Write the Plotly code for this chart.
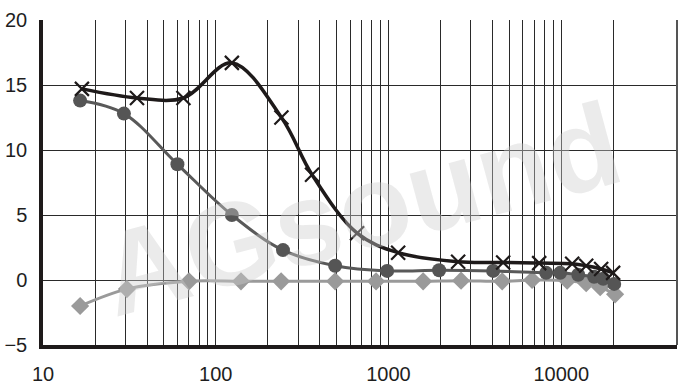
import plotly.graph_objects as go

# Series data
freq_cross = [16.8, 35, 65, 124, 240, 361, 658, 1137, 2530, 4610, 7450, 11570, 13940, 17020, 19960]
val_cross = [14.7, 14.0, 14.0, 16.7, 12.5, 8.1, 3.6, 2.1, 1.4, 1.35, 1.3, 1.25, 1.1, 0.85, 0.55]

freq_circle = [16.4, 29.4, 60, 124, 245, 491, 982, 1963, 4035, 8180, 9860, 12530, 15500, 17500, 20250]
val_circle = [13.8, 12.8, 8.9, 5.0, 2.3, 1.1, 0.7, 0.75, 0.7, 0.55, 0.55, 0.4, 0.25, 0.1, -0.3]

freq_diamond = [16.4, 30.6, 70, 140, 239, 491, 847, 1587, 2630, 4550, 6780, 10820, 13940, 16800, 20500]
val_diamond = [-2.0, -0.7, -0.1, -0.1, -0.1, -0.1, -0.1, -0.1, -0.05, -0.1, 0.0, -0.05, -0.25, -0.55, -1.1]

x_major = [10, 100, 1000, 10000]
x_minor = [20, 30, 40, 50, 60, 70, 80, 90,
           200, 300, 400, 500, 600, 700, 800, 900,
           2000, 3000, 4000, 5000, 6000, 7000, 8000, 9000,
           20000]
y_ticks = [-5, 0, 5, 10, 15, 20]

tickvals = x_major + x_minor
ticktext = [str(v) for v in x_major] + [""] * len(x_minor)

fig = go.Figure()

fig.add_trace(go.Scatter(
    x=freq_diamond, y=val_diamond, mode="lines+markers",
    line=dict(color="#9a9a9a", width=3, shape="spline", smoothing=1),
    marker=dict(symbol="diamond", size=14, color="#9a9a9a"),
    showlegend=False))
fig.add_trace(go.Scatter(
    x=freq_circle, y=val_circle, mode="lines+markers",
    line=dict(color="#595959", width=3, shape="spline", smoothing=1),
    marker=dict(symbol="circle", size=14, color="#555555"),
    showlegend=False))
fig.add_trace(go.Scatter(
    x=freq_cross, y=val_cross, mode="lines+markers",
    line=dict(color="#1e1a1a", width=3.5, shape="spline", smoothing=1),
    marker=dict(symbol="x-thin", size=14, color="#1e1a1a",
                line=dict(width=2.2, color="#1e1a1a")),
    showlegend=False))

# faint watermark
fig.add_annotation(
    x=0.5, y=0.42, xref="paper", yref="paper",
    text="<b>AGsound</b>", showarrow=False, textangle=-15,
    font=dict(family="Liberation Sans", size=118, color="rgba(205,205,205,0.40)"))

# right border
fig.add_shape(type="line", xref="paper", yref="paper", x0=1, x1=1, y0=0, y1=1,
              line=dict(color="#555555", width=2))

fig.update_xaxes(
    type="log", range=[1, 4.67], automargin=False,
    tickmode="array", tickvals=tickvals, ticktext=ticktext,
    showgrid=True, gridcolor="#2a2a2a", gridwidth=1.3,
    showline=True, linecolor="#1e1a1a", linewidth=3.5,
    ticks="", ticklabelstandoff=8,
    tickfont=dict(family="Liberation Sans", size=20, color="#1e1e1e"),
    zeroline=False)
fig.update_yaxes(
    range=[-5, 20], tickmode="array", tickvals=y_ticks, automargin=False,
    showgrid=True, gridcolor="#2a2a2a", gridwidth=1.3,
    showline=True, linecolor="#1e1a1a", linewidth=3.5,
    ticks="", ticklabelstandoff=8,
    tickfont=dict(family="Liberation Sans", size=20, color="#1e1e1e"),
    zeroline=False)

fig.update_layout(
    width=690, height=387,
    margin=dict(l=43, r=13, t=20, b=42),
    paper_bgcolor="white", plot_bgcolor="white")

fig.write_html("out.html", config={"displayModeBar": False})

# remove the browser's default page margin so the figure sits at the top-left
with open("out.html", "r", encoding="utf-8") as f:
    html = f.read()
html = html.replace("<head>", "<head><style>html,body{margin:0;padding:0;overflow:hidden;}</style>", 1)
with open("out.html", "w", encoding="utf-8") as f:
    f.write(html)
